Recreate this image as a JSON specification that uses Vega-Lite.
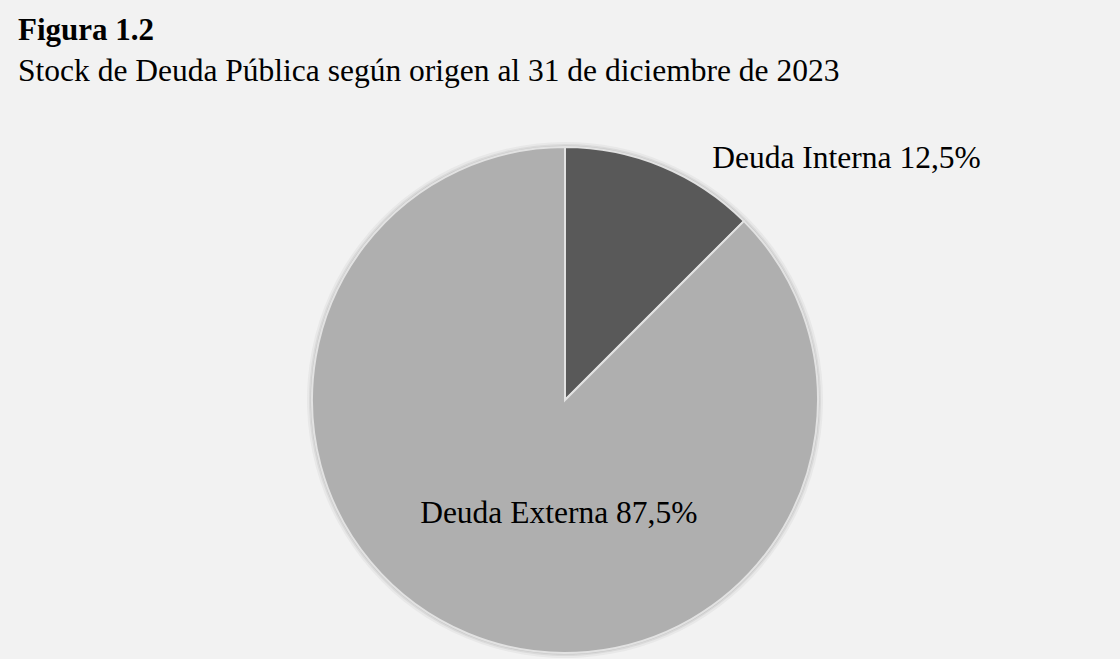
{
  "$schema": "https://vega.github.io/schema/vega-lite/v6.json",
  "width": 1120,
  "height": 659,
  "autosize": {"type": "fit", "contains": "padding"},
  "padding": {"left": 7, "top": 7, "right": 0, "bottom": 0},
  "background": "#f2f2f2",
  "view": {"fill": "#f2f2f2", "stroke": null},
  "config": {"view": {"fill": "#f2f2f2", "stroke": null}, "font": "Liberation Serif"},
  "title": {
    "text": "Figura 1.2",
    "subtitle": "Stock de Deuda Pública según origen al 31 de diciembre de 2023",
    "anchor": "start",
    "frame": "group",
    "font": "Liberation Serif",
    "fontSize": 31,
    "fontWeight": "bold",
    "color": "black",
    "subtitleFont": "Liberation Serif",
    "subtitleFontSize": 31.5,
    "subtitleColor": "black",
    "subtitlePadding": 9,
    "offset": 0,
    "dx": 11,
    "dy": 81
  },
  "data": {
    "values": [
      {"origen": "Deuda Interna", "porcentaje": 12.5, "orden": 1, "etiqueta": "Deuda Interna 12,5%"},
      {"origen": "Deuda Externa", "porcentaje": 87.5, "orden": 2, "etiqueta": "Deuda Externa 87,5%"}
    ]
  },
  "encoding": {
    "theta": {"field": "porcentaje", "type": "quantitative", "stack": true},
    "order": {"field": "orden", "type": "quantitative"}
  },
  "layer": [
    {"mark": {"type": "arc", "radius": 258, "fill": "#e8e8e8", "x": 558, "y": 393}},
    {"mark": {"type": "arc", "radius": 256, "fill": "#dadada", "x": 558, "y": 393}},
    {"mark": {"type": "arc", "radius": 254.5, "fill": "#c8c8c8", "x": 558, "y": 393}},
    {
      "mark": {"type": "arc", "radius": 253, "stroke": "#e2e2e2", "strokeWidth": 2, "x": 558, "y": 393},
      "encoding": {
        "color": {"field": "origen", "type": "nominal", "scale": {"domain": ["Deuda Interna", "Deuda Externa"], "range": ["#595959", "#afafaf"]}, "legend": null}
      }
    },
    {
      "mark": {"type": "text", "radius": 262, "x": 558, "y": 393, "dx": 47, "dy": 10, "align": "left", "baseline": "alphabetic", "fontSize": 31.5, "font": "Liberation Serif", "color": "black"},
      "encoding": {
        "text": {"condition": {"test": "datum.origen === 'Deuda Interna'", "field": "etiqueta"}, "value": ""}
      }
    },
    {
      "mark": {"type": "text", "radius": 126, "x": 558, "y": 393, "dx": 42, "dy": 7, "align": "center", "baseline": "alphabetic", "fontSize": 31.5, "font": "Liberation Serif", "color": "black"},
      "encoding": {
        "text": {"condition": {"test": "datum.origen === 'Deuda Externa'", "field": "etiqueta"}, "value": ""}
      }
    }
  ]
}
